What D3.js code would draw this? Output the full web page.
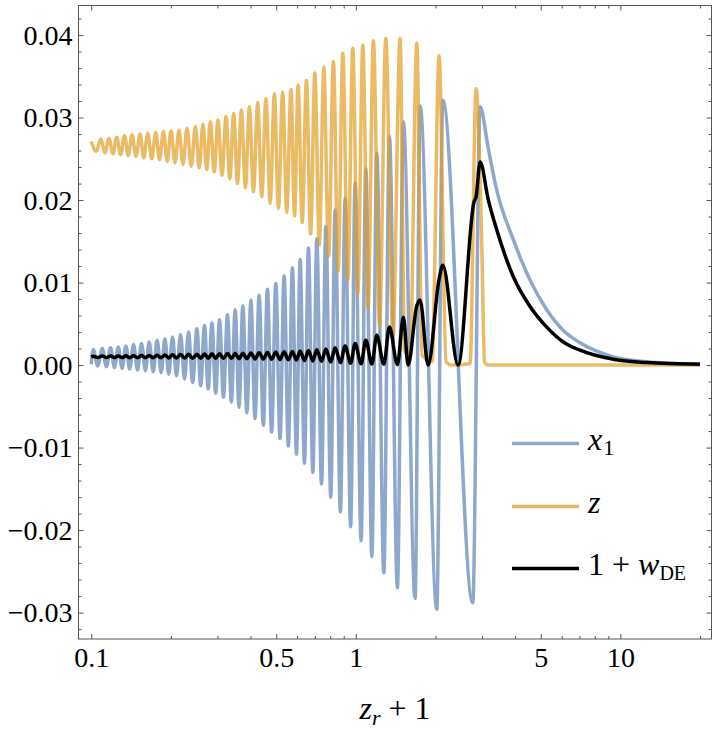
<!DOCTYPE html>
<html>
<head>
<meta charset="utf-8">
<script src="https://cdn.jsdelivr.net/npm/d3@7"></script>
<style>
  body { margin: 0; background: #fff; }
  svg { display: block; }
  svg text { font-family: "Liberation Serif", "Times New Roman", Times, Tinos, "DejaVu Serif", "Noto Serif", serif !important; fill: #000; }
</style>
</head>
<body>
<div id="chart"></div>
<script>
// [z_r + 1, value]: start, then alternating maxima / minima, then the tail
var x1Points = [
  [0.1000, 0.0001],
  [0.1018, 0.0019], [0.1058, -0.0001], [0.1101, 0.0020], [0.1141, -0.0002],
  [0.1183, 0.0021], [0.1224, -0.0003], [0.1265, 0.0022], [0.1308, -0.0004],
  [0.1352, 0.0023], [0.1397, -0.0005], [0.1445, 0.0025], [0.1496, -0.0006],
  [0.1549, 0.0026], [0.1602, -0.0007], [0.1656, 0.0028], [0.1715, -0.0008],
  [0.1775, 0.0030], [0.1837, -0.0009], [0.1898, 0.0032], [0.1963, -0.0011],
  [0.2028, 0.0034], [0.2100, -0.0013], [0.2175, 0.0037], [0.2252, -0.0017],
  [0.2332, 0.0040], [0.2417, -0.0021], [0.2508, 0.0044], [0.2593, -0.0025],
  [0.2679, 0.0048], [0.2767, -0.0029], [0.2858, 0.0051], [0.2954, -0.0034],
  [0.3053, 0.0055], [0.3161, -0.0039], [0.3272, 0.0061], [0.3386, -0.0045],
  [0.3499, 0.0067], [0.3619, -0.0051], [0.3741, 0.0072], [0.3875, -0.0058],
  [0.4012, 0.0079], [0.4160, -0.0065], [0.4311, 0.0085], [0.4471, -0.0073],
  [0.4634, 0.0092], [0.4807, -0.0081], [0.4985, 0.0099], [0.5171, -0.0089],
  [0.5358, 0.0108], [0.5559, -0.0098], [0.5760, 0.0118], [0.5965, -0.0108],
  [0.6161, 0.0128], [0.6394, -0.0119], [0.6622, 0.0142], [0.6881, -0.0130],
  [0.7121, 0.0153], [0.7419, -0.0144], [0.7705, 0.0168], [0.8040, -0.0160],
  [0.8352, 0.0188], [0.8745, -0.0178], [0.9112, 0.0202], [0.9558, -0.0196],
  [0.9940, 0.0221], [1.047, -0.0213], [1.091, 0.0238], [1.150, -0.0232],
  [1.200, 0.0257], [1.276, -0.0252], [1.340, 0.0277], [1.436, -0.0270],
  [1.513, 0.0295], [1.675, -0.0283], [1.750, 0.0314], [2.023, -0.0296],
  [2.132, 0.0321], [2.767, -0.0288], [2.949, 0.0313],
  [3.169, 0.0262], [3.409, 0.0212], [3.939, 0.0152], [4.555, 0.0103],
  [5.268, 0.0067], [6.086, 0.0042], [7.038, 0.0027], [9.401, 0.0010],
  [12.57, 0.0004], [20.0, 0.0001]
];

var zPoints = [
  [0.1000, 0.0271], [0.1045, 0.0259],
  [0.1086, 0.0274], [0.1126, 0.0257], [0.1167, 0.0275], [0.1207, 0.0256],
  [0.1248, 0.0276], [0.1290, 0.0255], [0.1335, 0.0278], [0.1380, 0.0254],
  [0.1426, 0.0279], [0.1477, 0.0253], [0.1529, 0.0280], [0.1580, 0.0251],
  [0.1635, 0.0281], [0.1693, 0.0250], [0.1753, 0.0282], [0.1811, 0.0249],
  [0.1874, 0.0283], [0.1937, 0.0247], [0.2002, 0.0284], [0.2073, 0.0245],
  [0.2146, 0.0285], [0.2222, 0.0243], [0.2301, 0.0287], [0.2387, 0.0241],
  [0.2475, 0.0289], [0.2559, 0.0239], [0.2644, 0.0292], [0.2731, 0.0237],
  [0.2820, 0.0295], [0.2916, 0.0234], [0.3013, 0.0297], [0.3120, 0.0230],
  [0.3230, 0.0301], [0.3339, 0.0226], [0.3454, 0.0305], [0.3570, 0.0220],
  [0.3693, 0.0309], [0.3824, 0.0215], [0.3960, 0.0313], [0.4103, 0.0210],
  [0.4256, 0.0318], [0.4411, 0.0204], [0.4575, 0.0323], [0.4745, 0.0196],
  [0.4922, 0.0329], [0.5100, 0.0190], [0.5290, 0.0331], [0.5482, 0.0185],
  [0.5686, 0.0334], [0.5867, 0.0181], [0.6053, 0.0339], [0.6273, 0.0173],
  [0.6507, 0.0345], [0.6749, 0.0159], [0.7000, 0.0354], [0.7279, 0.0146],
  [0.7570, 0.0361], [0.7893, 0.0132], [0.8229, 0.0368], [0.8573, 0.0114],
  [0.8931, 0.0378], [0.9328, 0.0103], [0.9742, 0.0384], [1.0176, 0.0087],
  [1.0628, 0.0388], [1.1129, 0.0069], [1.1654, 0.0393], [1.2300, 0.0047],
  [1.2982, 0.0396], [1.3809, 0.0033],
  [1.4702, 0.0396], [1.5288, 0.0018], [1.6038, 0.0008],
  [1.6999, 0.0390], [1.7802, 0.0012], [1.9420, 0.0004],
  [2.0639, 0.0375], [2.1936, 0.0004], [2.3111, 0.0000], [2.7027, 0.0002],
  [2.8477, 0.0335], [2.9925, 0.0148], [3.0661, 0.0003], [3.1610, 0.0000],
  [20.0, 0.0000]
];

var wPoints = [
  [0.1000, 0.00100],
  [0.1018, 0.00108], [0.1058, 0.00092], [0.1101, 0.00109], [0.1141, 0.00092],
  [0.1183, 0.00110], [0.1224, 0.00091], [0.1265, 0.00110], [0.1308, 0.00091],
  [0.1352, 0.00112], [0.1397, 0.00090], [0.1445, 0.00113], [0.1496, 0.00090],
  [0.1549, 0.00115], [0.1602, 0.00089], [0.1656, 0.00117], [0.1715, 0.00088],
  [0.1775, 0.00120], [0.1837, 0.00088], [0.1898, 0.00122], [0.1963, 0.00087],
  [0.2028, 0.00125], [0.2100, 0.00086], [0.2175, 0.00128], [0.2252, 0.00085],
  [0.2332, 0.00130], [0.2417, 0.00084], [0.2508, 0.00132], [0.2593, 0.00083],
  [0.2679, 0.00134], [0.2767, 0.00082], [0.2858, 0.00136], [0.2954, 0.00081],
  [0.3053, 0.00138], [0.3161, 0.00080], [0.3272, 0.00140], [0.3386, 0.00079],
  [0.3499, 0.00142], [0.3619, 0.00078], [0.3741, 0.00144], [0.3875, 0.00077],
  [0.4012, 0.00146], [0.4160, 0.00075], [0.4311, 0.00150], [0.4471, 0.00073],
  [0.4634, 0.00153], [0.4807, 0.00071], [0.4985, 0.00157], [0.5171, 0.00068],
  [0.5358, 0.00160], [0.5559, 0.00064], [0.5760, 0.00166], [0.5965, 0.00060],
  [0.6161, 0.00172], [0.6394, 0.00055], [0.6622, 0.00178], [0.6881, 0.00050],
  [0.7121, 0.00185], [0.7419, 0.00045], [0.7705, 0.00195], [0.8040, 0.00038],
  [0.8352, 0.00210], [0.8745, 0.00030], [0.9112, 0.00230], [0.9558, 0.00022],
  [0.9940, 0.00260], [1.047, 0.00016], [1.091, 0.00300], [1.150, 0.00012],
  [1.200, 0.00360], [1.276, 0.00010], [1.340, 0.00460], [1.436, 0.00005],
  [1.513, 0.00580], [1.5761, 0.00000],
  [1.6999, 0.00720], [1.750, 0.00790], [1.8756, 0.00000],
  [2.0639, 0.01040], [2.132, 0.01210], [2.4349, 0.00000],
  [2.7985, 0.01980], [2.8477, 0.02040], [2.949, 0.02460],
  [3.169, 0.0200], [3.409, 0.0164], [3.939, 0.0107], [4.555, 0.0071],
  [5.268, 0.0046], [6.086, 0.0028], [7.038, 0.0018], [9.401, 0.0007],
  [12.57, 0.0003], [20.0, 0.0001]
];

var yTicks = [-0.03, -0.02, -0.01, 0, 0.01, 0.02, 0.03, 0.04];
var xTicks = [0.1, 0.5, 1, 5, 10];
var xTickLabels = ["0.1", "0.5", "1", "5", "10"];
var xMinor = [0.2, 0.3, 0.4, 0.6, 0.7, 0.8, 0.9, 2, 3, 4, 6, 7, 8, 9, 20];

var W = 714, H = 737;
var m = {left: 78.5, right: 711.5, top: 5.5, bottom: 639};
var serif = '"Liberation Serif", "Times New Roman", Times, Tinos, "DejaVu Serif", "Noto Serif", serif';

var x = d3.scaleLog().domain([0.0895, 22.1]).range([m.left, m.right]);
var y = d3.scaleLinear().domain([-0.0332, 0.04358]).range([m.bottom, m.top]);

var yMinor = d3.range(-32, 44, 2)
  .filter(function(k) { return k % 10 !== 0; })
  .map(function(k) { return k / 1000; });

var svg = d3.select("#chart").append("svg")
  .attr("width", W)
  .attr("height", H)
  .attr("font-family", serif);

svg.append("defs").append("clipPath").attr("id", "plotclip")
  .append("rect")
  .attr("x", m.left).attr("y", m.top)
  .attr("width", m.right - m.left).attr("height", m.bottom - m.top);

// frame with ticks on all four sides, pointing inwards
var frameColor = "#555";
var styleAxis = function(g) {
  g.attr("font-family", serif);
  g.select(".domain").remove();
  g.selectAll(".tick line").attr("stroke", frameColor).attr("stroke-width", 1);
  g.selectAll(".tick text").style("font-size", "28px").attr("fill", "#000");
};

svg.append("g").attr("transform", "translate(0," + m.bottom + ")")
  .call(d3.axisBottom(x).tickValues(xTicks)
    .tickFormat(function(d, i) { return xTickLabels[i]; })
    .tickSizeInner(-5).tickSizeOuter(0).tickPadding(8))
  .call(styleAxis);
svg.append("g").attr("transform", "translate(0," + m.bottom + ")")
  .call(d3.axisBottom(x).tickValues(xMinor).tickFormat("").tickSizeInner(-3).tickSizeOuter(0))
  .call(styleAxis);
svg.append("g").attr("transform", "translate(0," + m.top + ")")
  .call(d3.axisTop(x).tickValues(xTicks).tickFormat("").tickSizeInner(-5).tickSizeOuter(0))
  .call(styleAxis);
svg.append("g").attr("transform", "translate(0," + m.top + ")")
  .call(d3.axisTop(x).tickValues(xMinor).tickFormat("").tickSizeInner(-3).tickSizeOuter(0))
  .call(styleAxis);

svg.append("g").attr("transform", "translate(" + m.left + ",0)")
  .call(d3.axisLeft(y).tickValues(yTicks).tickFormat(d3.format(".2f"))
    .tickSizeInner(-5).tickSizeOuter(0).tickPadding(6))
  .call(styleAxis);
svg.append("g").attr("transform", "translate(" + m.left + ",0)")
  .call(d3.axisLeft(y).tickValues(yMinor).tickFormat("").tickSizeInner(-3).tickSizeOuter(0))
  .call(styleAxis);
svg.append("g").attr("transform", "translate(" + m.right + ",0)")
  .call(d3.axisRight(y).tickValues(yTicks).tickFormat("").tickSizeInner(-5).tickSizeOuter(0))
  .call(styleAxis);
svg.append("g").attr("transform", "translate(" + m.right + ",0)")
  .call(d3.axisRight(y).tickValues(yMinor).tickFormat("").tickSizeInner(-3).tickSizeOuter(0))
  .call(styleAxis);

svg.append("rect")
  .attr("x", m.left).attr("y", m.top)
  .attr("width", m.right - m.left).attr("height", m.bottom - m.top)
  .attr("fill", "none").attr("stroke", frameColor).attr("stroke-width", 1);

// curves
var series = [
  {key: "x1", points: x1Points, color: "#5E81B5", opacity: 0.7},
  {key: "z", points: zPoints, color: "#E19C24", opacity: 0.7},
  {key: "w", points: wPoints, color: "#000000", opacity: 1}
];

var line = d3.line()
  .x(function(d) { return x(d[0]); })
  .y(function(d) { return y(d[1]); })
  .curve(d3.curveMonotoneX);

svg.append("g")
  .attr("clip-path", "url(#plotclip)")
  .selectAll("path")
  .data(series)
  .enter().append("path")
  .attr("d", function(d) { return line(d.points); })
  .attr("fill", "none")
  .attr("stroke", function(d) { return d.color; })
  .attr("stroke-opacity", function(d) { return d.opacity; })
  .attr("stroke-width", 3.5)
  .attr("stroke-linejoin", "round")
  .attr("stroke-linecap", "butt");

// legend
var legendY = [443.5, 506.5, 568.5];
var leg = svg.append("g").attr("class", "legend");
series.forEach(function(s, i) {
  leg.append("line")
    .attr("x1", 512).attr("x2", 579)
    .attr("y1", legendY[i]).attr("y2", legendY[i])
    .attr("stroke", s.color)
    .attr("stroke-opacity", s.opacity)
    .attr("stroke-width", 3.5);
});

var t1 = leg.append("text").attr("x", 588).attr("y", legendY[0] + 6).style("font-size", "32px");
t1.append("tspan").style("font-style", "italic").text("x");
t1.append("tspan").attr("dx", 1).attr("dy", 5).style("font-size", "22px").text("1");

var t2 = leg.append("text").attr("x", 588).attr("y", legendY[1] + 6).style("font-size", "32px");
t2.append("tspan").style("font-style", "italic").text("z");

var t3 = leg.append("text").attr("x", 588).attr("y", legendY[2] + 6).style("font-size", "32px");
t3.append("tspan").text("1 + ");
t3.append("tspan").style("font-style", "italic").text("w");
t3.append("tspan").attr("dy", 5).style("font-size", "20px").text("DE");

// x axis title
var title = svg.append("text")
  .attr("x", (m.left + m.right) / 2)
  .attr("y", 719)
  .attr("text-anchor", "middle")
  .style("font-size", "32px");
title.append("tspan").style("font-style", "italic").text("z");
title.append("tspan").attr("dy", 6).style("font-style", "italic").style("font-size", "22px").text("r");
title.append("tspan").attr("dy", -6).text(" + 1");
</script>
</body>
</html>
